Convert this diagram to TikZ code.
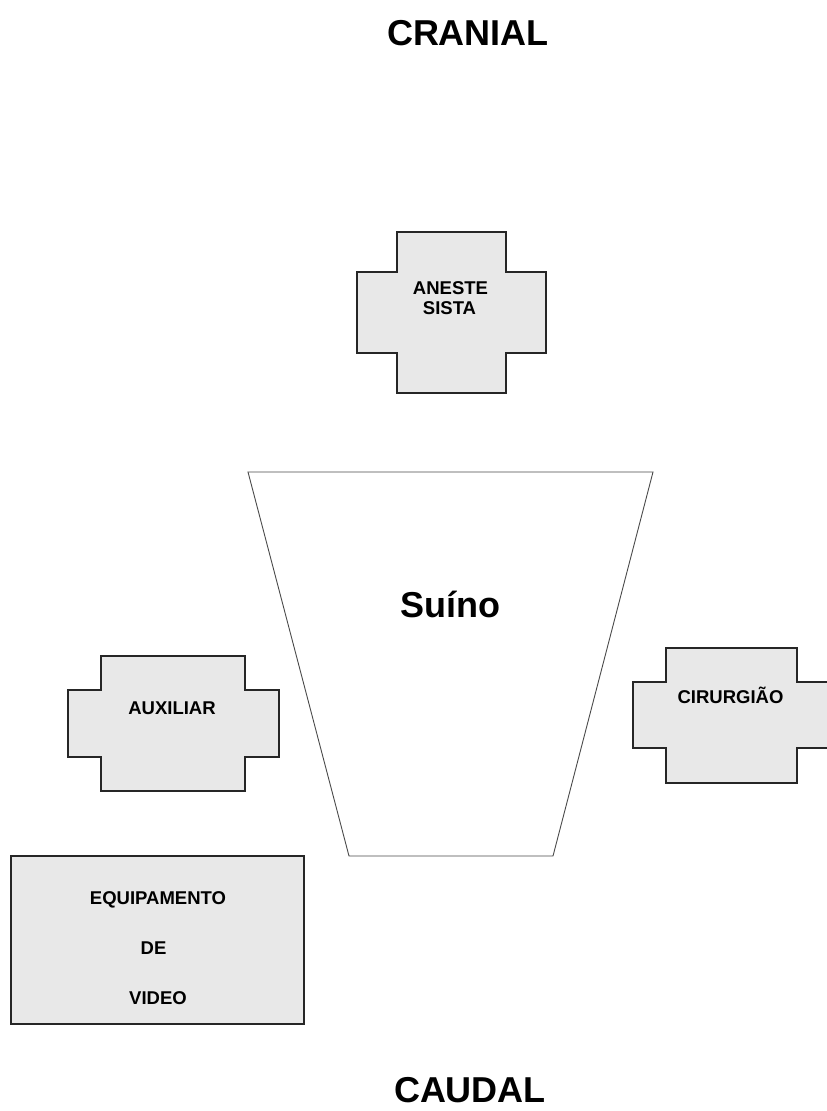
\documentclass[tikz,border=0pt]{standalone}
\usepackage{fontspec}
\setmainfont{Liberation Sans}
\definecolor{boxgray}{HTML}{E8E8E8}
\definecolor{edgegray}{HTML}{4A4A4A}
\begin{document}
\begin{tikzpicture}[x=1pt,y=-1pt,
  shapebox/.style={draw=black!85, line width=1.3pt, fill=boxgray, line join=miter},
  table/.style={draw=edgegray, line width=0.9pt, fill=white},
  lbl/.style={font=\bfseries\fontsize{18.5}{20}\selectfont, anchor=base, inner sep=0pt},
  title/.style={font=\bfseries\fontsize{36}{40}\selectfont, anchor=base, inner sep=0pt}]
\useasboundingbox (0,0) rectangle (827,1111);
\clip (0,0) rectangle (827,1111);

% titles
\node[title] (cranial) at (468,45) {CRANIAL};
\node[title] (caudal) at (470,1102) {CAUDAL};

% anestesista
\draw[shapebox] (397,232)--(506,232)--(506,272)--(546,272)--(546,353)--(506,353)--(506,393)--(397,393)--(397,353)--(357,353)--(357,272)--(397,272)--cycle;
\node[lbl] (aneste) at (450.5,294) {ANESTE};
\node[lbl] (sista) at (449.5,314) {SISTA};

% table (suino)
\draw[table] (248,472)--(653,472)--(553,856)--(349,856)--cycle;
\node[title] (suino) at (450,617) {Suíno};

% auxiliar
\draw[shapebox] (101,656)--(245,656)--(245,690)--(279,690)--(279,757)--(245,757)--(245,791)--(101,791)--(101,757)--(68,757)--(68,690)--(101,690)--cycle;
\node[lbl] (aux) at (172,714) {AUXILIAR};

% cirurgiao
\draw[shapebox] (666,648)--(797,648)--(797,682)--(832,682)--(832,748)--(797,748)--(797,783)--(666,783)--(666,748)--(633,748)--(633,682)--(666,682)--cycle;
\node[lbl] (cir) at (730.5,703) {CIRURGIÃO};

% video equipment
\draw[shapebox] (11,856) rectangle (304,1024);
\node[lbl] (equip) at (158,904) {EQUIPAMENTO};
\node[lbl] (de) at (153.5,954) {DE};
\node[lbl] (video) at (158,1004) {VIDEO};
\end{tikzpicture}
\end{document}
